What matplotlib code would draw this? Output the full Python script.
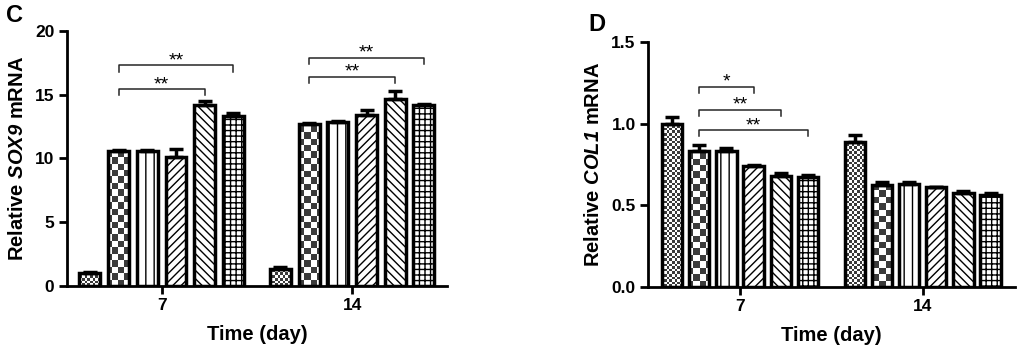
import numpy as np
import matplotlib
matplotlib.use('Agg')
import matplotlib.pyplot as plt

plt.rcParams['font.family'] = 'Liberation Sans'
plt.rcParams['font.weight'] = 'bold'
plt.rcParams['mathtext.fontset'] = 'custom'
plt.rcParams['mathtext.rm'] = 'Liberation Sans:bold'
plt.rcParams['mathtext.bf'] = 'Liberation Sans:bold'
plt.rcParams['mathtext.it'] = 'Liberation Sans:italic:bold'
plt.rcParams['mathtext.bfit'] = 'Liberation Sans:italic:bold'
plt.rcParams['hatch.linewidth'] = 1.0

days = ['7', '14']

sox9_d7 = [1.0, 10.6, 10.6, 10.1, 14.2, 13.35]
sox9_d7_err = [0.06, 0.08, 0.08, 0.65, 0.3, 0.25]
sox9_d14 = [1.35, 12.7, 12.85, 13.4, 14.7, 14.2]
sox9_d14_err = [0.15, 0.05, 0.1, 0.4, 0.6, 0.05]

col1_d7 = [1.0, 0.83, 0.83, 0.74, 0.68, 0.675]
col1_d7_err = [0.04, 0.04, 0.02, 0.004, 0.015, 0.012]
col1_d14 = [0.89, 0.625, 0.63, 0.61, 0.575, 0.565]
col1_d14_err = [0.04, 0.015, 0.01, 0.005, 0.015, 0.01]

# (day index, from bar, to bar, height, label)
sox9_sig = [(0, 1, 4, 15.45, '**'), (0, 1, 5, 17.3, '**'),
            (1, 1, 4, 16.4, '**'), (1, 1, 5, 17.9, '**')]
col1_sig = [(0, 1, 3, 1.225, '*'), (0, 1, 4, 1.084, '**'), (0, 1, 5, 0.96, '**')]

patterns = ['fine', 'checker', '||', '////', '\\\\\\\\', '+++']

W, H = 10.24, 3.53
fig = plt.figure(figsize=(W, H), dpi=100)


def checker(ax, rect, cell, xlim, ylim, bar):
    wpx = rect[2] * W * 100
    hpx = rect[3] * H * 100
    nx = int(wpx / cell) + 1
    ny = int(hpx / cell) + 1
    arr = (np.add.outer(np.arange(ny), np.arange(nx)) % 2).astype(float)
    ext = [xlim[0], xlim[0] + nx * cell * (xlim[1] - xlim[0]) / wpx,
           ylim[0], ylim[0] + ny * cell * (ylim[1] - ylim[0]) / hpx]
    im = ax.imshow(arr, cmap='gray', extent=ext, aspect='auto',
                   interpolation='nearest', origin='lower', zorder=1.5,
                   vmin=-0.3, vmax=1)
    im.set_clip_path(bar)


def panel(rect, d7, e7, d14, e14, sig, gap, width, xlim, ylim, yticks,
          ylabel, letter, letter_pos, drop):
    ax = fig.add_axes(rect)
    base = np.arange(6)
    xs = [base, base + gap]
    for k, (vals, errs) in enumerate([(d7, e7), (d14, e14)]):
        for i in range(6):
            x = xs[k][i]
            white = ax.bar(x, vals[i], width, color='white', zorder=1)[0]
            pat = patterns[i]
            if pat == 'fine':
                checker(ax, rect, 2.6, xlim, ylim, white)
                hatch = None
            elif pat == 'checker':
                checker(ax, rect, 6.4, xlim, ylim, white)
                hatch = None
            else:
                hatch = pat
            ax.bar(x, vals[i], width, facecolor='none', edgecolor='black',
                   linewidth=2.5, hatch=hatch, zorder=2)
        ax.errorbar(xs[k], vals, yerr=[np.zeros(6), errs], fmt='none',
                    ecolor='black', elinewidth=2.5, capsize=5, capthick=2.5,
                    zorder=3)
    for day, a, b, y, lab in sig:
        x1, x2 = xs[day][a], xs[day][b]
        ax.plot([x1, x1, x2, x2], [y - drop, y, y, y - drop], color='0.15',
                lw=1.1, zorder=3)
        ax.text((x1 + x2) / 2, y, lab, ha='center', va='baseline',
                fontsize=14, fontweight='normal')
    ax.set_xlim(xlim)
    ax.set_ylim(ylim)
    ax.set_yticks(yticks)
    ax.set_xticks([2.5, gap + 2.5])
    ax.set_xticklabels(days)
    ax.spines['top'].set_visible(False)
    ax.spines['right'].set_visible(False)
    ax.spines['left'].set_linewidth(2)
    ax.spines['bottom'].set_linewidth(2)
    ax.tick_params(width=2, length=6, labelsize=12.5, pad=3)
    ax.set_xlabel('Time (day)', fontsize=14.5, fontweight='bold', labelpad=8)
    ax.set_ylabel(ylabel, fontsize=14.5, fontweight='bold', labelpad=6)
    fig.text(letter_pos[0], letter_pos[1], letter, fontsize=17,
             fontweight='bold', ha='left', va='center')
    return ax


panel([0.0654, 0.19, 0.371, 0.722], sox9_d7, sox9_d7_err, sox9_d14,
      sox9_d14_err, sox9_sig, 6.64, 0.73, (-0.8, 12.44), (0, 20),
      [0, 5, 10, 15, 20], r'Relative $\mathbfit{SOX9}$ mRNA', 'C',
      (0.006, 0.955), 0.5)
panel([0.633, 0.187, 0.358, 0.694], col1_d7, col1_d7_err, col1_d14,
      col1_d14_err, col1_sig, 6.72, 0.75, (-0.88, 12.61), (0, 1.5),
      [0, 0.5, 1.0, 1.5], r'Relative $\mathbfit{COL1}$ mRNA', 'D',
      (0.575, 0.93), 0.037)
for ax in fig.axes:
    for t in ax.get_yticklabels():
        t.set_fontweight('bold')
fig.axes[1].yaxis.set_major_formatter(matplotlib.ticker.FormatStrFormatter('%.1f'))

fig.savefig('out.png', dpi=100)
